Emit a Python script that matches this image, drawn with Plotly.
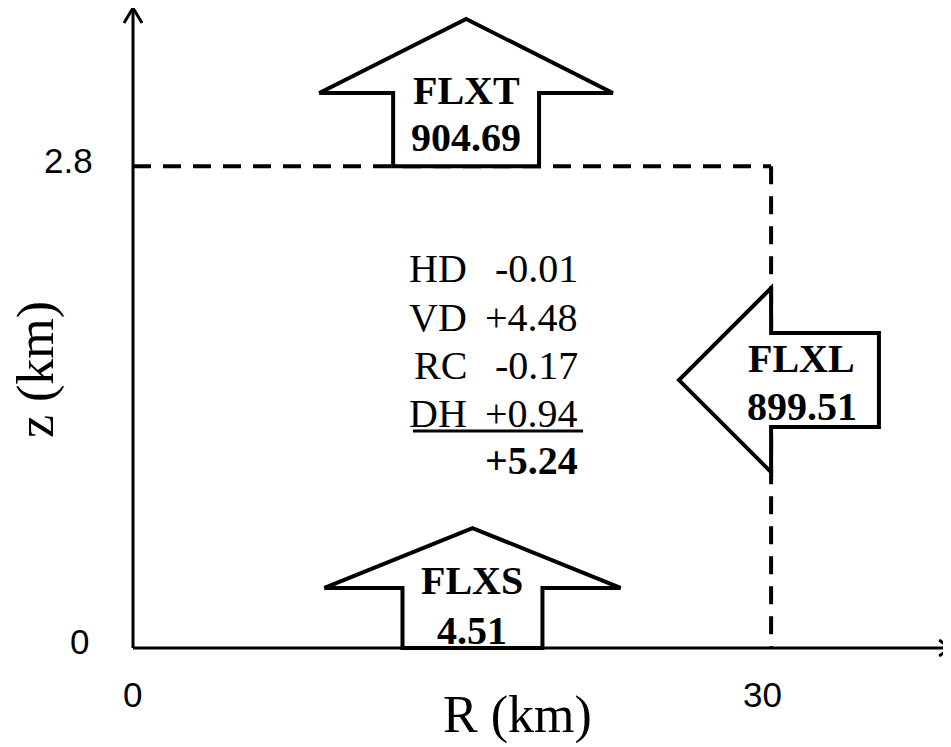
import plotly.graph_objects as go

# ---------------- data ----------------
R_max = 30.0          # km, outer radius of the budget box
z_max = 2.8           # km, top of the budget box
x_ticks = [0, 30]
x_tick_labels = ["0", "30"]
y_ticks = [0, 2.8]
y_tick_labels = ["0", "2.8"]

flux_names = ["FLXT", "FLXL", "FLXS"]
flux_values = ["904.69", "899.51", "4.51"]

budget_terms = ["HD", "VD", "RC", "DH"]
budget_values = ["-0.01", "+4.48", "-0.17", "+0.94"]
budget_total = "+5.24"

# ---------------- geometry (data units) ----------------
W, H = 951, 747
x_range = [-5.877, 38.834]
y_range = [-0.6217, 3.7188]
px_x = (x_range[1] - x_range[0]) / W   # data units per pixel
px_y = (y_range[1] - y_range[0]) / H

axis_x_end = 38.42
axis_y_end = 3.719

# top arrow (FLXT)
top_c, top_sh, top_hh, top_hb, top_tip = 15.66, 3.43, 6.9, 3.225, 3.655
# bottom arrow (FLXS)
bot_c, bot_sh, bot_hh, bot_hb, bot_tip = 15.96, 3.29, 6.96, 0.349, 0.697
# lateral arrow (FLXL)
lat_c, lat_sh, lat_hh, lat_end, lat_tip = 1.557, 0.273, 0.535, 35.07, 25.67

SERIF = "Liberation Serif, Times New Roman, serif"
SANS = "Liberation Sans, Arial, sans-serif"

fig = go.Figure()
fig.add_trace(go.Scatter(x=[0], y=[0], mode="markers", marker=dict(opacity=0),
                         hoverinfo="skip", showlegend=False))

shapes = []
# dashed budget box
shapes.append(dict(type="line", x0=0, y0=z_max, x1=R_max, y1=z_max,
                   line=dict(color="black", width=4, dash="18px,12px")))
shapes.append(dict(type="line", x0=R_max, y0=z_max, x1=R_max, y1=0,
                   line=dict(color="black", width=4, dash="18px,12px")))
# axes
shapes.append(dict(type="line", x0=0, y0=0, x1=axis_x_end, y1=0,
                   line=dict(color="black", width=3)))
shapes.append(dict(type="line", x0=0, y0=0, x1=0, y1=axis_y_end,
                   line=dict(color="black", width=3)))
# axis arrow heads (open chevrons)
cx, cy = 11 * px_x, 8 * px_y
shapes.append(dict(type="path",
                   path=f"M {axis_x_end-cx},{cy} L {axis_x_end},0 L {axis_x_end-cx},{-cy}",
                   line=dict(color="black", width=3)))
vx, vy = 9 * px_x, 15 * px_y
shapes.append(dict(type="path",
                   path=f"M {-vx},{axis_y_end-vy} L 0,{axis_y_end} L {vx},{axis_y_end-vy}",
                   line=dict(color="black", width=3)))


def up_arrow(c, sh, hh, base, hb, tip):
    return (f"M {c-sh},{base} L {c-sh},{hb} L {c-hh},{hb} L {c},{tip} "
            f"L {c+hh},{hb} L {c+sh},{hb} L {c+sh},{base} Z")


def left_arrow(c, sh, hh, base, end, tip):
    return (f"M {end},{c-sh} L {base},{c-sh} L {base},{c-hh} L {tip},{c} "
            f"L {base},{c+hh} L {base},{c+sh} L {end},{c+sh} Z")


arrow_style = dict(type="path", fillcolor="white", line=dict(color="black", width=4))
shapes.append(dict(arrow_style, path=up_arrow(top_c, top_sh, top_hh, z_max, top_hb, top_tip)))
shapes.append(dict(arrow_style, path=up_arrow(bot_c, bot_sh, bot_hh, 0, bot_hb, bot_tip)))
shapes.append(dict(arrow_style, path=left_arrow(lat_c, lat_sh, lat_hh, R_max, lat_end, lat_tip)))

# underline of the last budget term
shapes.append(dict(type="line", x0=13.16, y0=1.261, x1=21.16, y1=1.261,
                   line=dict(color="black", width=3)))

ann = []
# flux labels
flux_pos = [(top_c, 3.242, 2.969), (31.45, 1.685, 1.406), (15.92, 0.395, 0.099)]
for name, val, (xx, y1, y2) in zip(flux_names, flux_values, flux_pos):
    ann.append(dict(x=xx, y=y1, text=f"<b>{name}</b>", showarrow=False,
                    font=dict(family=SERIF, size=40, color="black")))
    ann.append(dict(x=xx, y=y2, text=f"<b>{val}</b>", showarrow=False,
                    font=dict(family=SERIF, size=40, color="black")))

# budget terms
term_z = [2.208, 1.923, 1.644, 1.365]
for term, val, zz in zip(budget_terms, budget_values, term_z):
    ann.append(dict(x=15.8, y=zz, text=term, showarrow=False, xanchor="right",
                    font=dict(family=SERIF, size=40, color="black")))
    ann.append(dict(x=21.02, y=zz, text=val, showarrow=False, xanchor="right",
                    font=dict(family=SERIF, size=40, color="black")))
ann.append(dict(x=21.02, y=1.092, text=f"<b>{budget_total}</b>", showarrow=False,
                xanchor="right", font=dict(family=SERIF, size=40, color="black")))

# tick labels
x_tick_pos = [-0.02, 29.6]
for xv, lab in zip(x_tick_pos, x_tick_labels):
    ann.append(dict(x=xv, y=-0.273, text=lab, showarrow=False,
                    font=dict(family=SANS, size=35, color="black")))
y_tick_x = [-2.515, -3.03]
y_tick_pos = [0.035, 2.833]
for xv, yv, lab in zip(y_tick_x, y_tick_pos, y_tick_labels):
    ann.append(dict(x=xv, y=yv, text=lab, showarrow=False,
                    font=dict(family=SANS, size=35, color="black")))

# axis titles
ann.append(dict(x=18.1, y=-0.39, text="R (km)", showarrow=False,
                font=dict(family=SERIF, size=52, color="black")))
ann.append(dict(x=-4.56, y=1.615, text="z (km)", showarrow=False, textangle=-90,
                font=dict(family=SERIF, size=52, color="black")))

fig.update_layout(
    width=W, height=H,
    margin=dict(l=0, r=0, t=0, b=0),
    paper_bgcolor="white", plot_bgcolor="white",
    xaxis=dict(range=x_range, visible=False, fixedrange=True),
    yaxis=dict(range=y_range, visible=False, fixedrange=True),
    shapes=shapes, annotations=ann, showlegend=False,
)

fig.write_html("out.html")
